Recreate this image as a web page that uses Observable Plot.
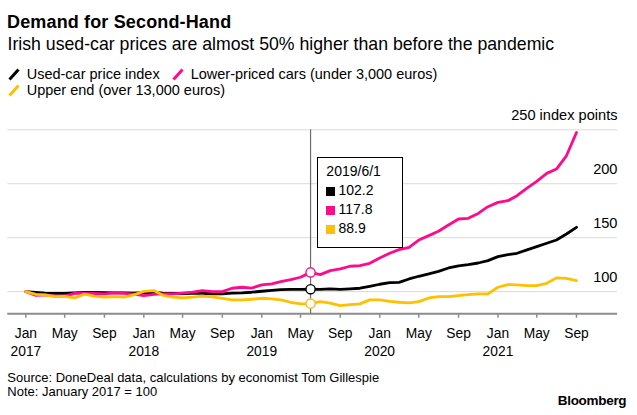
<!DOCTYPE html>
<html><head><meta charset="utf-8">
<script src="https://cdn.jsdelivr.net/npm/d3@7"></script>
<script src="https://cdn.jsdelivr.net/npm/@observablehq/plot@0.6"></script>
<style>
body{margin:0;background:#fff;font-family:"Liberation Sans",Arial,sans-serif;color:#000;}
#wrap{position:relative;width:637px;height:415px;overflow:hidden;background:#fff;}
.abs{position:absolute;white-space:nowrap;}
#title{left:7px;top:12.1px;font-size:18px;line-height:20px;font-weight:bold;letter-spacing:0.15px;}
#subtitle{left:7.5px;top:33.9px;font-size:17.7px;line-height:20px;}
.leg{font-size:14.5px;line-height:16px;}
#source{left:7.3px;top:371.2px;font-size:13px;line-height:14px;}
#logo{right:10.7px;top:392.8px;font-size:13.5px;line-height:15px;font-weight:bold;letter-spacing:-0.3px;}
#chart{position:absolute;left:0;top:100px;}
#tip{position:absolute;box-sizing:border-box;border:1px solid #000;background:#fff;font-size:14px;line-height:19px;padding:4px 0 0 8px;}
#tip .sw{display:inline-block;width:8.6px;height:8.6px;margin-right:3.5px;vertical-align:-0.5px;}
</style></head>
<body><div id="wrap">
<div id="title" class="abs">Demand for Second-Hand</div>
<div id="subtitle" class="abs">Irish used-car prices are almost 50% higher than before the pandemic</div>
<div id="legend"></div>
<div id="chart"></div>
<div id="tip"></div>
<div id="source" class="abs">Source: DoneDeal data, calculations by economist Tom Gillespie<br>Note: January 2017 = 100</div>
<div id="logo" class="abs">Bloomberg</div>
</div>
<script>
// Series names and colours
const seriesNames = ["Used-car price index", "Lower-priced cars (under 3,000 euros)", "Upper end (over 13,000 euros)"];
const seriesColors = ["#000000", "#ff0a8a", "#ffc000"];

// Monthly dates, Jan 2017 – Sep 2021
const months = d3.utcMonth.range(new Date(Date.UTC(2017, 0, 1)), new Date(Date.UTC(2021, 9, 1)));

// Index values (January 2017 = 100)
const usedCarIndex = [100, 99.2, 98.6, 98.3, 98.4, 98.8, 99.3, 99.2, 99.0, 98.8, 98.8, 98.6, 98.9, 99.2, 98.6, 98.3, 98.2, 98.4, 98.3, 98.0, 97.8, 98.6, 98.8, 99.4, 100.3, 101.2, 101.9, 102.1, 102.0, 102.2, 102.0, 102.5, 102.0, 102.5, 103.1, 104.9, 106.8, 108.3, 108.6, 111.7, 114.2, 116.4, 118.8, 121.9, 123.8, 125.0, 126.5, 128.7, 132.4, 134.3, 135.5, 138.6, 141.7, 144.8, 147.8, 153.4, 159.6];
const lowerPriced = [100, 96.5, 97.0, 96.0, 95.8, 98.4, 98.6, 98.2, 97.8, 98.8, 98.4, 97.6, 96.2, 97.4, 97.8, 97.8, 98.5, 99.4, 100.9, 100.0, 100.0, 103.1, 104.0, 103.3, 106.2, 107.1, 109.3, 111.1, 113.3, 117.8, 115.7, 119.4, 121.0, 123.5, 124.0, 126.2, 131.2, 135.5, 138.9, 141.0, 147.8, 151.9, 155.9, 161.7, 167.3, 167.9, 172.5, 178.7, 182.7, 184.3, 188.9, 196.0, 202.2, 209.6, 213.6, 225.9, 247.5];
const upperEnd = [100, 97.5, 96.9, 95.4, 95.6, 94.1, 97.6, 95.7, 94.8, 95.4, 94.9, 96.9, 100.2, 100.9, 96.5, 94.8, 94.1, 94.8, 95.7, 95.0, 93.8, 92.3, 92.3, 92.9, 93.8, 93.2, 92.3, 90.1, 88.6, 88.9, 90.7, 89.2, 87.0, 88.0, 88.6, 92.3, 92.3, 91.0, 90.1, 89.5, 90.7, 94.1, 95.4, 95.4, 96.3, 97.2, 97.8, 97.8, 104.0, 106.5, 106.2, 105.6, 105.6, 107.7, 112.7, 112.3, 110.2];

// Axis ticks / labels
const gridValues = [100, 150, 200, 250];
const gridLabels = ["100", "150", "200", "250 index points"];
const tickDates = d3.utcMonth.every(4).range(new Date(Date.UTC(2017, 0, 1)), new Date(Date.UTC(2021, 9, 1)));
const monthNames = ["Jan","Feb","Mar","Apr","May","Jun","Jul","Aug","Sep","Oct","Nov","Dec"];
const highlightDate = new Date(Date.UTC(2019, 5, 1));
const xDomain = [new Date(Date.UTC(2016, 10, 6)), new Date(Date.UTC(2022, 0, 6))];
const yDomain = [79.4, 250];

const seriesValues = [usedCarIndex, lowerPriced, upperEnd];
const rows = [];
seriesValues.forEach((vals, s) => vals.forEach((v, i) => rows.push({date: months[i], value: v, series: seriesNames[s]})));
const hiIndex = months.findIndex(d => +d === +highlightDate);
const hiRows = seriesValues.map((vals, s) => ({date: months[hiIndex], value: vals[hiIndex], series: seriesNames[s]}));

const FONT = "Liberation Sans, Arial, sans-serif";
const chart = Plot.plot({
  width: 637, height: 265,
  marginLeft: 7.3, marginRight: 20, marginTop: 29.3, marginBottom: 51.7,
  style: {fontFamily: FONT, fontSize: "13.5px", background: "transparent", color: "#000", overflow: "visible"},
  x: {type: "utc", domain: xDomain},
  y: {domain: yDomain, axis: null},
  color: {domain: seriesNames, range: seriesColors},
  marks: [
    Plot.ruleY(gridValues, {stroke: "#dadada", strokeWidth: 1}),
    Plot.text(gridValues, {y: d => d, text: (d, i) => gridLabels[i], frameAnchor: "right", textAnchor: "end", lineAnchor: "bottom", dy: -9.5, fontSize: 14.6, fill: "#000"}),
    Plot.ruleY([yDomain[0]], {stroke: "#8c8c8c", strokeWidth: 2}),
    Plot.axisX({
      ticks: tickDates,
      tickFormat: d => monthNames[d.getUTCMonth()] + (d.getUTCMonth() === 0 ? "\n" + d.getUTCFullYear() : ""),
      tickSize: 4.5, tickPadding: 6.7, stroke: "#8c8c8c", strokeWidth: 1.5, fill: "#000",
      fontSize: 13.8, lineHeight: 1.31, label: null
    }),
    Plot.ruleX([highlightDate], {stroke: "#6e6e6e", strokeWidth: 1.2}),
    Plot.line(rows, {x: "date", y: "value", z: "series", stroke: "series", strokeWidth: 2.8, strokeLinejoin: "round", strokeLinecap: "round"}),
    Plot.dot(hiRows, {x: "date", y: "value", stroke: "series", fill: "white", r: 4.6, strokeWidth: 1.4})
  ]
});
document.getElementById("chart").appendChild(chart);

// Legend
const legend = document.getElementById("legend");
const legItems = [
  {i: 0, mx: 8, top: 65.7, tx: 26.7},
  {i: 1, mx: 172, top: 65.7, tx: 190.7},
  {i: 2, mx: 8, top: 82, tx: 26.7}
];
legItems.forEach(({i, mx, top, tx}) => {
  const m = document.createElementNS("http://www.w3.org/2000/svg", "svg");
  m.setAttribute("width", 13); m.setAttribute("height", 13);
  m.style.position = "absolute"; m.style.left = mx + "px"; m.style.top = (top + 2) + "px";
  m.innerHTML = `<line x1="1.5" y1="11.5" x2="10.5" y2="1.5" stroke="${seriesColors[i]}" stroke-width="3"/>`;
  legend.appendChild(m);
  const t = document.createElement("div");
  t.className = "abs leg"; t.style.left = tx + "px"; t.style.top = top + "px";
  t.textContent = seriesNames[i];
  legend.appendChild(t);
});

// Tooltip box, positioned from the chart's own x scale
const sx = chart.scale("x");
const tip = document.getElementById("tip");
tip.style.left = (sx.apply(highlightDate) + 7.3) + "px";
tip.style.top = "157.3px";
tip.style.width = "85.4px";
tip.style.height = "91px";
const d = months[hiIndex];
let html = `<div>${d.getUTCFullYear()}/${d.getUTCMonth() + 1}/${d.getUTCDate()}</div>`;
seriesValues.forEach((vals, s) => {
  html += `<div><span class="sw" style="background:${seriesColors[s]}"></span>${vals[hiIndex].toFixed(1)}</div>`;
});
tip.innerHTML = html;
</script>
</body></html>
